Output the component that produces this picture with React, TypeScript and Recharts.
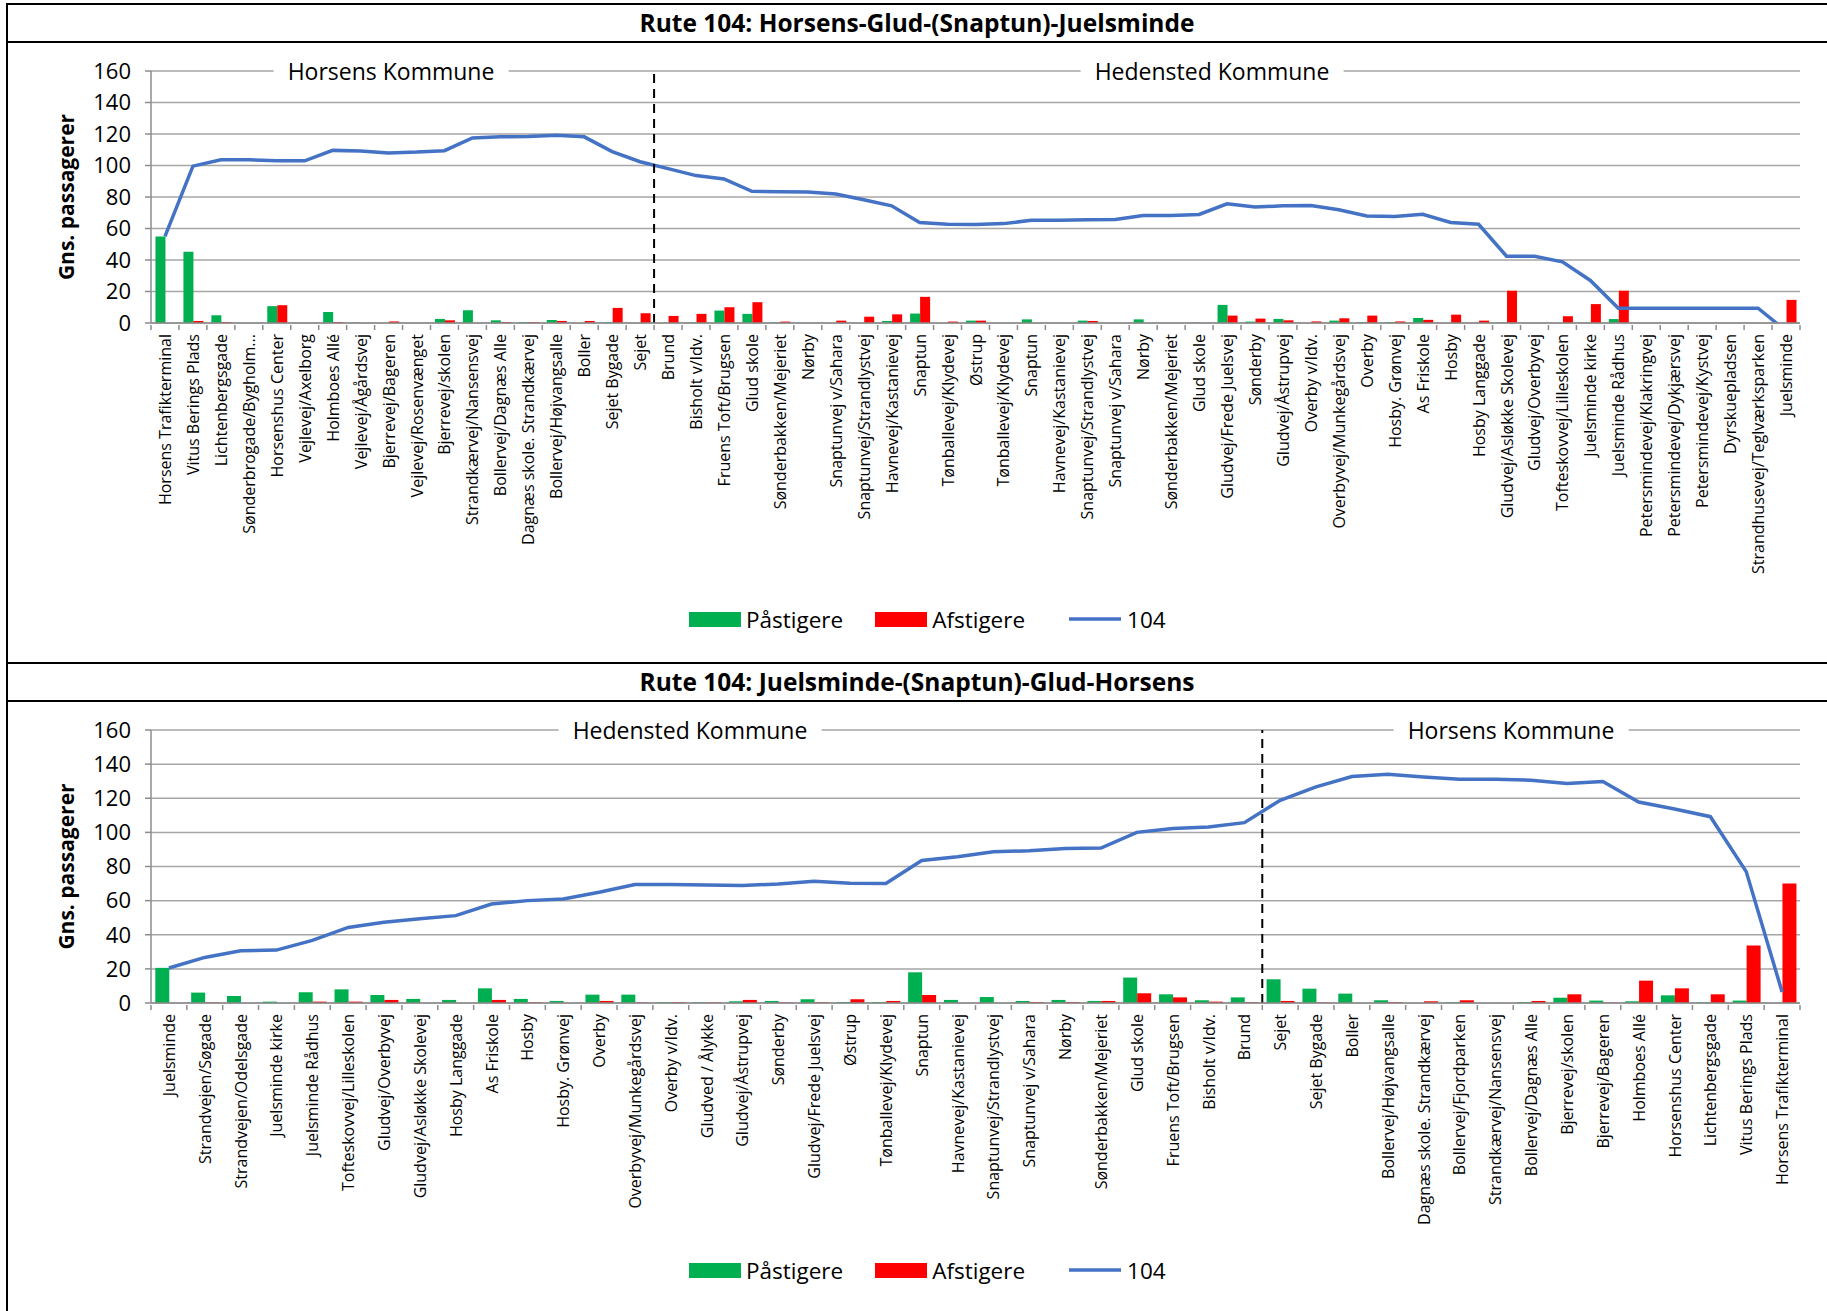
import {
  ComposedChart,
  Bar,
  Line,
  XAxis,
  YAxis,
  CartesianGrid,
  ReferenceLine,
  Legend
} from 'recharts';

// Rute 104 udtur: Horsens -> Juelsminde
const stopsOut = [
  'Horsens Trafikterminal', 'Vitus Berings Plads', 'Lichtenbergsgade', 'Sønderbrogade/Bygholm...',
  'Horsenshus Center', 'Vejlevej/Axelborg', 'Holmboes Allé', 'Vejlevej/Ågårdsvej', 'Bjerrevej/Bageren',
  'Vejlevej/Rosenvænget', 'Bjerrevej/skolen', 'Strandkærvej/Nansensvej', 'Bollervej/Dagnæs Alle',
  'Dagnæs skole. Strandkærvej', 'Bollervej/Højvangsalle', 'Boller', 'Sejet Bygade', 'Sejet', 'Brund',
  'Bisholt v/Idv.', 'Fruens Toft/Brugsen', 'Glud skole', 'Sønderbakken/Mejeriet', 'Nørby',
  'Snaptunvej v/Sahara', 'Snaptunvej/Strandlystvej', 'Havnevej/Kastanievej', 'Snaptun',
  'Tønballevej/Klydevej', 'Østrup', 'Tønballevej/Klydevej', 'Snaptun', 'Havnevej/Kastanievej',
  'Snaptunvej/Strandlystvej', 'Snaptunvej v/Sahara', 'Nørby', 'Sønderbakken/Mejeriet', 'Glud skole',
  'Gludvej/Frede Juelsvej', 'Sønderby', 'Gludvej/Åstrupvej', 'Overby v/Idv.', 'Overbyvej/Munkegårdsvej',
  'Overby', 'Hosby. Grønvej', 'As Friskole', 'Hosby', 'Hosby Langgade', 'Gludvej/Asløkke Skolevej',
  'Gludvej/Overbyvej', 'Tofteskovvej/Lilleskolen', 'Juelsminde kirke', 'Juelsminde  Rådhus',
  'Petersmindevej/Klakringvej', 'Petersmindevej/Dykjærsvej', 'Petersmindevej/Kystvej', 'Dyrskuepladsen',
  'Strandhusevej/Teglværksparken', 'Juelsminde'
];
const boardOut = [
  55, 45.3, 4.9, 0, 10.7, 0, 7, 0.2, 0, 0, 2.6, 8.1, 1.7, 0.6, 1.9, 0, 0.4, 0, 0, 0.3, 7.9, 5.8, 0.3, 0,
  0, 0, 1.3, 6, 0, 1.5, 0, 2.3, 0, 1.5, 0, 2.3, 0, 0.2, 11.5, 0.9, 2.6, 0, 1.5, 0.5, 0.5, 3.2, 0, 0, 0.3,
  0, 0, 0.3, 2.5, 0, 0, 0, 0, 0, 0
];
const alightOut = [
  0, 1.3, 0.6, 0, 11.3, 0, 0.6, 0, 1, 0, 1.7, 0, 0.6, 0.6, 1.3, 1.3, 9.6, 6.2, 4.5, 5.8, 10, 13.2, 0.9, 0,
  1.5, 4, 5.5, 16.6, 0.9, 1.5, 0, 0, 0, 1.3, 0, 0, 0, 0, 4.7, 2.8, 1.7, 1, 3, 4.7, 1, 2, 5.3, 1.5, 20.5,
  0, 4.3, 12, 20.5, 0, 0, 0, 0, 0, 14.7
];
const loadOut = [
  55, 99.6, 103.6, 103.6, 103, 103, 109.6, 109.2, 108, 108.5, 109.4, 117.5, 118.2, 118.4, 119.2, 118.2,
  108.8, 102.4, 98, 93.6, 91.5, 83.6, 83.4, 83.2, 81.9, 78.3, 74.4, 63.8, 62.7, 62.5, 63.1, 65.2, 65.2,
  65.5, 65.7, 68.2, 68.2, 68.9, 75.7, 73.6, 74.4, 74.6, 71.9, 68, 67.6, 69, 63.8, 62.7, 42.4, 42.4, 38.8,
  27, 9.4, 9.4, 9.4, 9.4, 9.4, 9.4, -5
];

// Rute 104 hjemtur: Juelsminde -> Horsens
const stopsIn = [
  'Juelsminde', 'Strandvejen/Søgade', 'Strandvejen/Odelsgade', 'Juelsminde kirke', 'Juelsminde  Rådhus',
  'Tofteskovvej/Lilleskolen', 'Gludvej/Overbyvej', 'Gludvej/Asløkke Skolevej', 'Hosby Langgade',
  'As Friskole', 'Hosby', 'Hosby. Grønvej', 'Overby', 'Overbyvej/Munkegårdsvej', 'Overby v/Idv.',
  'Gludved  /  Ålykke', 'Gludvej/Åstrupvej', 'Sønderby', 'Gludvej/Frede Juelsvej', 'Østrup',
  'Tønballevej/Klydevej', 'Snaptun', 'Havnevej/Kastanievej', 'Snaptunvej/Strandlystvej',
  'Snaptunvej v/Sahara', 'Nørby', 'Sønderbakken/Mejeriet', 'Glud skole', 'Fruens Toft/Brugsen',
  'Bisholt v/Idv.', 'Brund', 'Sejet', 'Sejet Bygade', 'Boller', 'Bollervej/Højvangsalle',
  'Dagnæs skole. Strandkærvej', 'Bollervej/Fjordparken', 'Strandkærvej/Nansensvej',
  'Bollervej/Dagnæs Alle', 'Bjerrevej/skolen', 'Bjerrevej/Bageren', 'Holmboes Allé',
  'Horsenshus Center', 'Lichtenbergsgade', 'Vitus Berings Plads', 'Horsens Trafikterminal'
];
const boardIn = [
  20.6, 6.1, 4.1, 0.8, 6.3, 8, 4.7, 2.4, 1.8, 8.6, 2.4, 1.2, 4.9, 4.9, 0.5, 0.4, 1, 1.2, 2.2, 0.6, 0.6,
  18, 1.8, 3.5, 1.2, 1.8, 1.2, 14.9, 5.1, 1.6, 3.3, 13.9, 8.4, 5.5, 1.6, 0, 0.4, 0, 0.6, 3.1, 1.4, 1,
  4.5, 0.4, 1.4, 0
];
const alightIn = [
  0, 0.3, 0, 0, 0.8, 0.8, 1.8, 0, 0, 1.8, 0.4, 0, 1.2, 0.3, 0.5, 0.3, 1.8, 0.3, 0.4, 2.2, 1.2, 4.7, 0,
  0, 0.6, 0.6, 1.2, 5.7, 3.3, 0.8, 0.4, 1.2, 0.3, 0, 0.5, 1, 1.6, 0, 1.2, 5.1, 0.2, 13.1, 8.6, 5.1,
  33.7, 70
];
const loadIn = [
  20.5, 26.7, 30.6, 31, 36.7, 44.3, 47.3, 49.4, 51.2, 58, 60, 61, 64.9, 69.4, 69.4, 69.2, 68.8, 69.8,
  71.4, 70.2, 70, 83.5, 85.7, 88.6, 89.2, 90.6, 90.8, 100, 102.2, 103.1, 105.7, 118.8, 126.7, 132.7,
  134.1, 132.5, 131.2, 131.2, 130.6, 128.6, 129.8, 117.8, 113.7, 109.2, 77, 6.5
];

const yTicks = [0, 20, 40, 60, 80, 100, 120, 140, 160];

const GREEN = '#00B050';
const RED = '#FF0000';
const BLUE = '#4472C4';
const GRID = '#a6a6a6';
const AXIS = '#8c8c8c';
const FONT = '"Open Sans", "Noto Sans", sans-serif';

const PLOT_LEFT = 151;
const PLOT_RIGHT = 1800;
const W = 1827;

const StopTick = (props: any) => {
  const { x, y, payload, names, step } = props;
  const i = payload.value as number;
  const ty = y + 9;
  return (
    <g>
      <line x1={x - step / 2} x2={x - step / 2} y1={y} y2={y + 5} stroke={AXIS} strokeWidth={1.5} />
      {i === names.length - 1 && (
        <line x1={x + step / 2} x2={x + step / 2} y1={y} y2={y + 5} stroke={AXIS} strokeWidth={1.5} />
      )}
      <text
        x={x}
        y={ty}
        transform={`rotate(-90, ${x}, ${ty})`}
        textAnchor="end"
        dominantBaseline="central"
        fontFamily={FONT}
        fontSize={16}
        fill="#000"
      >
        {names[i]}
      </text>
    </g>
  );
};

const YTitle = (props: any) => {
  const { viewBox } = props;
  const cx = viewBox.x + 66;
  const cy = viewBox.y + viewBox.height / 2;
  return (
    <text
      x={cx}
      y={cy}
      transform={`rotate(-90, ${cx}, ${cy})`}
      textAnchor="middle"
      dominantBaseline="central"
      fontFamily={FONT}
      fontWeight={700}
      fontSize={21}
      fill="#000"
    >
      Gns. passagerer
    </text>
  );
};

const LegendRow = () => (
  <div style={{ display: 'flex', alignItems: 'center', fontFamily: FONT, fontSize: 22.5, color: '#000', height: 30 }}>
    <span style={{ display: 'inline-block', width: 52, height: 15, background: GREEN }} />
    <span style={{ marginLeft: 5, marginRight: 32 }}>Påstigere</span>
    <span style={{ display: 'inline-block', width: 52, height: 15, background: RED }} />
    <span style={{ marginLeft: 5, marginRight: 44 }}>Afstigere</span>
    <svg width={52} height={8}>
      <line x1={0} x2={52} y1={4} y2={4} stroke={BLUE} strokeWidth={3.5} />
    </svg>
    <span style={{ marginLeft: 6 }}>104</span>
  </div>
);

type PanelProps = {
  stops: string[];
  board: number[];
  alight: number[];
  load: number[];
  splitAfter: number;
  height: number;
  marginTop: number;
  axisHeight: number;
  legendTop: number;
  gap: string;
};

const Panel = ({ stops, board, alight, load, splitAfter, height, marginTop, axisHeight, legendTop, gap }: PanelProps) => {
  const data = stops.map((s, i) => ({ idx: i, name: s, board: board[i], alight: alight[i], load: load[i] }));
  const step = (PLOT_RIGHT - PLOT_LEFT) / stops.length;
  return (
    <ComposedChart
      width={W}
      height={height}
      data={data}
      margin={{ top: marginTop, right: W - PLOT_RIGHT, left: 0, bottom: 0 }}
      barCategoryGap={gap}
      barGap={0}
    >
      <CartesianGrid vertical={false} stroke={GRID} strokeWidth={1.5} />
      <XAxis
        dataKey="idx"
        type="category"
        interval={0}
        height={axisHeight}
        tickLine={false}
        tickSize={0}
        axisLine={{ stroke: AXIS, strokeWidth: 1.5 }}
        tick={<StopTick names={stops} step={step} />}
      />
      <YAxis
        width={PLOT_LEFT}
        domain={[0, 160]}
        ticks={yTicks}
        allowDataOverflow
        interval={0}
        axisLine={{ stroke: AXIS, strokeWidth: 1.5 }}
        tickLine={{ stroke: AXIS, strokeWidth: 1.5 }}
        tickSize={6}
        tickMargin={14}
        tick={{ fontFamily: FONT, fontSize: 22, fill: '#000' }}
        label={<YTitle />}
      />
      <Bar dataKey="board" name="Påstigere" fill={GREEN} isAnimationActive={false} />
      <Bar dataKey="alight" name="Afstigere" fill={RED} isAnimationActive={false} />
      <Line
        dataKey="load"
        name="104"
        type="linear"
        stroke={BLUE}
        strokeWidth={3.5}
        dot={false}
        activeDot={false}
        isAnimationActive={false}
      />
      <ReferenceLine
        x={splitAfter}
        position="end"
        stroke="#000"
        strokeWidth={2}
        strokeDasharray="9 6"
      />
      <Legend
        layout="horizontal"
        verticalAlign="middle"
        align="center"
        wrapperStyle={{ top: legendTop - 15, left: 689, width: 520, height: 30 }}
        content={() => <LegendRow />}
      />
    </ComposedChart>
  );
};

const kommuneStyle = (left: number, top: number): React.CSSProperties => ({
  position: 'absolute',
  left,
  top,
  transform: 'translate(-50%, -50%)',
  background: '#fff',
  padding: '0 14px',
  fontFamily: FONT,
  fontSize: 23,
  color: '#000',
  whiteSpace: 'nowrap',
  lineHeight: '30px'
});

const titleStyle = (top: number): React.CSSProperties => ({
  position: 'absolute',
  left: 6,
  width: 1822,
  top,
  height: 38,
  lineHeight: '38px',
  textAlign: 'center',
  fontFamily: FONT,
  fontWeight: 700,
  fontSize: 24.5,
  color: '#000'
});

export default function App() {
  return (
    <div style={{ position: 'absolute', left: 0, top: 0, width: W, height: 1311, background: '#fff', overflow: 'hidden' }}>
      <div style={{ position: 'absolute', left: 0, top: 0 }}>
        <Panel
          stops={stopsOut}
          board={boardOut}
          alight={alightOut}
          load={loadOut}
          splitAfter={17}
          height={663}
          marginTop={71}
          axisHeight={340}
          legendTop={619}
          gap="16%"
        />
      </div>
      <div style={{ position: 'absolute', left: 0, top: 663 }}>
        <Panel
          stops={stopsIn}
          board={boardIn}
          alight={alightIn}
          load={loadIn}
          splitAfter={30}
          height={648}
          marginTop={67}
          axisHeight={308}
          legendTop={607}
          gap="12%"
        />
      </div>

      <div style={kommuneStyle(391, 71)}>Horsens Kommune</div>
      <div style={kommuneStyle(1212, 71)}>Hedensted Kommune</div>
      <div style={kommuneStyle(690, 730)}>Hedensted Kommune</div>
      <div style={kommuneStyle(1511, 730)}>Horsens Kommune</div>

      {/* frame and title rows */}
      <div style={{ position: 'absolute', left: 6, top: 3, width: 1830, height: 1320, border: '2px solid #000', boxSizing: 'border-box', pointerEvents: 'none' }} />
      <div style={{ position: 'absolute', left: 6, top: 41, width: 1830, height: 2, background: '#000' }} />
      <div style={{ position: 'absolute', left: 6, top: 662, width: 1830, height: 2, background: '#000' }} />
      <div style={{ position: 'absolute', left: 6, top: 700, width: 1830, height: 2, background: '#000' }} />
      <div style={titleStyle(4)}>Rute 104: Horsens-Glud-(Snaptun)-Juelsminde</div>
      <div style={titleStyle(663)}>Rute 104: Juelsminde-(Snaptun)-Glud-Horsens</div>
    </div>
  );
}
